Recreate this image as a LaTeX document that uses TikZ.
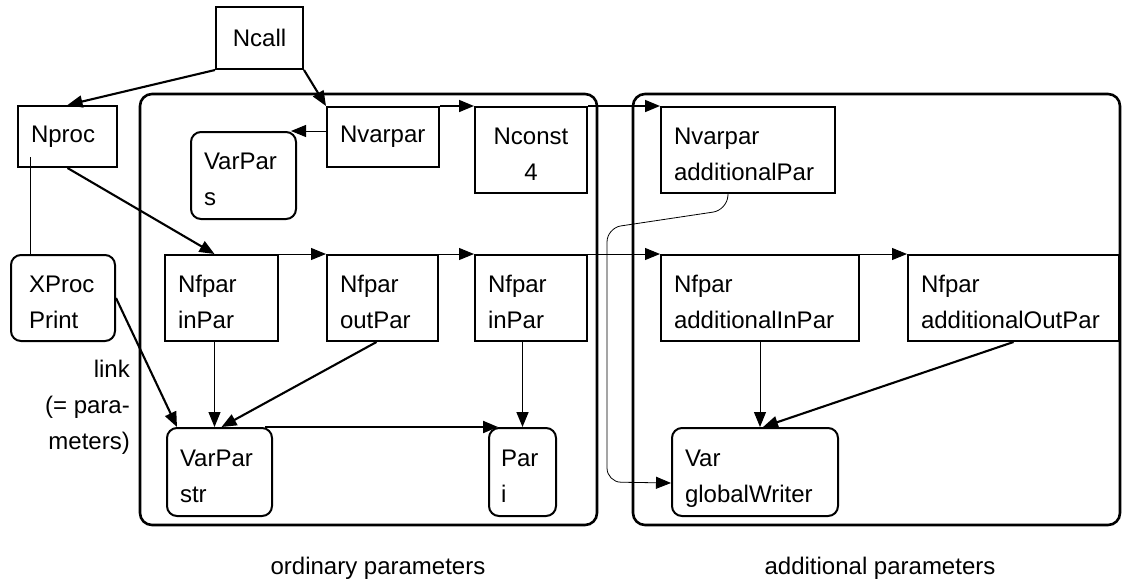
\documentclass[tikz,border=0pt]{standalone}
\usepackage{fontspec}
\setmainfont{Liberation Sans}
\usetikzlibrary{arrows.meta}
\hyphenpenalty=10000
\newcommand\lnst{\rule[-6pt]{0pt}{36pt}}
\newcommand\twoln[2]{\lnst#1\\\lnst#2}

\begin{document}
\begin{tikzpicture}[x=1pt, y=-1pt, font=\fontsize{24}{36}\selectfont,
  >={Triangle[length=15pt,width=12pt]},
  box/.style={draw, line width=2pt, anchor=north west, inner xsep=13pt, inner ysep=0pt, align=left},
  var/.style={box, rounded corners=10pt},
  group/.style={line width=2.6pt, rounded corners=12pt},
  con/.style={->, line width=1pt},
  conb/.style={->, line width=2.1pt}]
          \useasboundingbox (0,0) rectangle (1124,582);
          \draw[group] (140,94) rectangle (597,525);
          \draw[group] (633,94) rectangle (1120,525);
          \node[box, align=center, text width=61pt, minimum height=62pt] (ncall) at (215,6) {Ncall};
          \node[box, text width=73pt, minimum height=61pt] (nproc) at (17,105) {Nproc};
          \node[box, text width=86pt, minimum height=60pt] (nvarpar) at (326,106) {Nvarpar};
          \node[var, text width=79pt, minimum height=87pt] (vpars) at (190,131) {\twoln{VarPar}{s}};
          \node[box, align=center, text width=86pt, minimum height=86pt] (nconst) at (474,106) {\twoln{Nconst}{4}};
          \node[box, text width=148pt, minimum height=86pt] (nvaradd) at (660,106) {\twoln{Nvarpar}{additionalPar}};
          \node[var, inner xsep=18pt, text width=68pt, minimum height=86pt] (xproc) at (10,254) {\twoln{XProc}{Print}};
          \node[box, text width=87pt, minimum height=86pt] (nfin) at (164,254) {\twoln{Nfpar}{inPar}};
          \node[box, text width=85pt, minimum height=86pt] (nfout) at (326,254) {\twoln{Nfpar}{outPar}};
          \node[box, text width=86pt, minimum height=86pt] (nfin2) at (474,254) {\twoln{Nfpar}{inPar}};
          \node[box, text width=172pt, minimum height=86pt] (addin) at (660,254) {\twoln{Nfpar}{additionalInPar}};
          \node[box, text width=185pt, minimum height=86pt] (addout) at (907,254) {\twoln{Nfpar}{additionalOutPar}};
          \node[var, text width=79pt, minimum height=88pt] (vpstr) at (166,427) {\twoln{VarPar}{str}};
          \node[var, inner xsep=12pt, text width=43pt, minimum height=88pt] (pari) at (488,427) {\twoln{Par}{i}};
          \node[var, text width=140pt, minimum height=88pt] (gwriter) at (671,427) {\twoln{Var}{globalWriter}};
          \node[align=right, anchor=north east, inner sep=0pt] (lnk) at (130,347) {\lnst link\\\lnst(= para-\\\lnst meters)};
          \node (ord) at (378,568) {ordinary parameters};
          \node (addl) at (880,568) {additional parameters};
          % calls
          \draw[conb] (ncall.south west) -- (nproc.north);
          \draw[conb] (ncall.south east) -- (nvarpar.north west);
          \draw[conb] (nproc.south) -- ([xshift=-7pt]nfin.north);
          \draw[line width=1pt] ([xshift=13pt,yshift=11pt]nproc.south west) -- ([xshift=20pt]xproc.north west);
          \draw[conb] (xproc.east) -- ([xshift=11pt]vpstr.north west);
          % parameter chains
          \draw[con] (nvarpar.west |- vpars.north) -- ([xshift=-6pt]vpars.north east);
          \draw[con, line width=1.6pt] (nvarpar.north east) -- (nconst.north west);
          \draw[con, line width=1.6pt] (nconst.north east) -- (nvaradd.north west);
          \draw[con] (nfin.north east) -- (nfout.north west);
          \draw[con] (nfout.north east) -- (nfin2.north west);
          \draw[con] (nfin2.north east) -- (addin.north west);
          \draw[con] (addin.north east) -- (addout.north west);
          % links to variables
          \draw[con] ([xshift=-5pt]vpstr.north |- nfin.south) -- ([xshift=-5pt]vpstr.north);
          \draw[conb] ([xshift=-6pt]nfout.south) -- ([xshift=2pt]vpstr.north);
          \draw[con, line width=1.6pt] (pari.north |- nfin2.south) -- (pari.north);
          \draw[conb] ([xshift=-8pt]vpstr.north east) -- ([xshift=10pt]pari.north west);
          \draw[con] (addin.south) -- (addin.south |- gwriter.north);
          \draw[conb] (addout.south) -- ([xshift=8pt]gwriter.north);
          \draw[con, line width=0.8pt, rounded corners=14pt] ([xshift=-20pt]nvaradd.south) -- (727,210) -- (607,228) -- (607,482) -- ([yshift=-11pt]gwriter.west);
        \end{tikzpicture}
\end{document}
